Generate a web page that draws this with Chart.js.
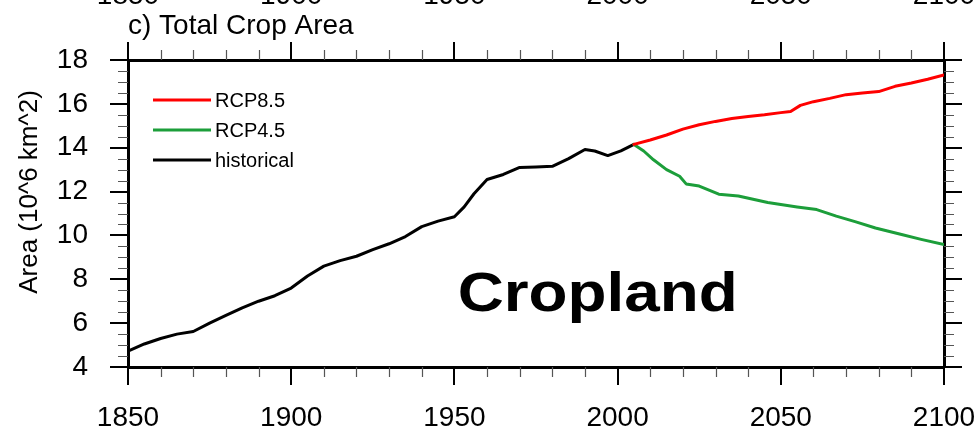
<!DOCTYPE html>
<html>
<head>
<meta charset="utf-8">
<script src="https://cdn.jsdelivr.net/npm/chart.js@4.4.0/dist/chart.umd.min.js"></script>
<style>
html,body{margin:0;padding:0;background:#fff;}
#wrap{width:977px;height:433px;position:relative;}
</style>
</head>
<body>
<div id="wrap"><canvas id="c" width="977" height="433"></canvas></div>
<script>
// ---- data ----
const histYears  = [1850,1855,1860,1865,1870,1875,1880,1885,1890,1895,1900,1905,1910,1915,1920,1925,1930,1935,1940,1945,1950,1953,1956,1960,1965,1970,1975,1980,1985,1990,1993,1997,2001,2005];
const histValues = [4.72,5.05,5.30,5.50,5.62,6.00,6.35,6.70,7.00,7.25,7.60,8.15,8.60,8.85,9.05,9.35,9.62,9.95,10.40,10.65,10.85,11.30,11.90,12.55,12.78,13.10,13.12,13.15,13.50,13.92,13.85,13.64,13.86,14.15];

const rcp85Years  = [2005,2010,2015,2020,2025,2030,2035,2040,2045,2050,2053,2056,2060,2065,2070,2075,2080,2085,2090,2095,2100];
const rcp85Values = [14.15,14.35,14.58,14.85,15.05,15.20,15.33,15.42,15.50,15.60,15.65,15.93,16.10,16.25,16.42,16.50,16.56,16.80,16.95,17.12,17.32];

const rcp45Years  = [2005,2008,2011,2015,2019,2021,2025,2031,2037,2046,2055,2061,2067,2073,2079,2087,2093,2100];
const rcp45Values = [14.15,13.85,13.45,13.00,12.70,12.35,12.25,11.88,11.80,11.50,11.30,11.18,10.88,10.62,10.34,10.04,9.82,9.58];

const xTickValues = [1850,1900,1950,2000,2050,2100];
const yTickValues = [4,6,8,10,12,14,16,18];
const seriesNames = ['RCP8.5','RCP4.5','historical'];
const seriesColors = ['#ff0000','#1c9e3a','#000000'];
const titleText = 'c) Total Crop Area';
const yTitleText = 'Area (10^6 km^2)';
const overlayText = 'Cropland';

// ---- helpers ----
const FONT = '"Liberation Sans", Arial, Helvetica, sans-serif';
const toPts = (xs, ys) => xs.map((x, i) => ({x: x, y: ys[i]}));
const xMinor = []; for (let v = 1850; v <= 2100; v += 10) if (v % 50) xMinor.push(v);
const yMinor = []; for (let v = 4; v <= 18; v += 0.5) if (v % 2) yMinor.push(v);

const gridOpts = {display: true, drawOnChartArea: false, drawTicks: true, tickLength: 18, lineWidth: 2, color: '#000'};
const borderOpts = {display: true, width: 3, color: '#000'};
const tickFont = {family: FONT, size: 28};
const noPad = s => { s.paddingLeft = 0; s.paddingRight = 0; s.paddingTop = 0; s.paddingBottom = 0; };

const decor = {
  id: 'decor',
  afterDraw(chart) {
    const ctx = chart.ctx;
    const a = chart.chartArea;
    const xs = chart.scales.x, ys = chart.scales.y;
    ctx.save();
    // minor ticks (outward)
    ctx.strokeStyle = '#555';
    ctx.lineWidth = 1.2;
    ctx.beginPath();
    xMinor.forEach(v => {
      const px = Math.round(xs.getPixelForValue(v)) + 0.5;
      ctx.moveTo(px, a.bottom); ctx.lineTo(px, a.bottom + 10);
      ctx.moveTo(px, a.top); ctx.lineTo(px, a.top - 10);
    });
    yMinor.forEach(v => {
      const py = Math.round(ys.getPixelForValue(v)) + 0.5;
      ctx.moveTo(a.left, py); ctx.lineTo(a.left - 10, py);
      ctx.moveTo(a.right, py); ctx.lineTo(a.right + 10, py);
    });
    ctx.stroke();

    // panel title
    ctx.fillStyle = '#000';
    ctx.font = '28px ' + FONT;
    ctx.textAlign = 'left';
    ctx.textBaseline = 'alphabetic';
    ctx.fillText(titleText, a.left, 34);

    // y-axis title
    ctx.save();
    ctx.translate(30, 192);
    ctx.rotate(-Math.PI / 2);
    ctx.font = '26px ' + FONT;
    ctx.textAlign = 'center';
    ctx.textBaseline = 'middle';
    ctx.fillText(yTitleText, 0, 0);
    ctx.restore();

    // legend
    ctx.font = '20px ' + FONT;
    ctx.textBaseline = 'middle';
    ctx.textAlign = 'left';
    seriesNames.forEach((name, i) => {
      const y = a.top + 40 + i * 30;
      ctx.strokeStyle = seriesColors[i];
      ctx.lineWidth = 3;
      ctx.beginPath();
      ctx.moveTo(a.left + 25, y); ctx.lineTo(a.left + 83, y);
      ctx.stroke();
      ctx.fillStyle = '#000';
      ctx.fillText(name, a.left + 87, y + 1);
    });

    // overlay label
    ctx.font = 'bold 56px ' + FONT;
    ctx.textAlign = 'left';
    ctx.textBaseline = 'alphabetic';
    const tx = xs.getPixelForValue(1951), ty = ys.getPixelForValue(6.55);
    const w = ctx.measureText(overlayText).width;
    ctx.translate(tx, ty);
    ctx.scale(280 / w, 1);
    ctx.fillText(overlayText, 0, 0);
    ctx.restore();
  }
};

new Chart(document.getElementById('c'), {
  type: 'line',
  data: {
    datasets: [
      {label: seriesNames[0], data: toPts(rcp85Years, rcp85Values), borderColor: seriesColors[0], order: 1},
      {label: seriesNames[1], data: toPts(rcp45Years, rcp45Values), borderColor: seriesColors[1], order: 2},
      {label: seriesNames[2], data: toPts(histYears, histValues), borderColor: seriesColors[2], order: 3}
    ]
  },
  options: {
    responsive: false,
    animation: false,
    devicePixelRatio: 1,
    layout: {padding: 0},
    elements: {
      line: {borderWidth: 3, tension: 0, borderCapStyle: 'round', borderJoinStyle: 'round'},
      point: {radius: 0, hoverRadius: 0}
    },
    plugins: {legend: {display: false}, title: {display: false}, tooltip: {enabled: false}},
    scales: {
      x: {
        type: 'linear', position: 'bottom', min: 1850, max: 2100,
        afterBuildTicks: s => { s.ticks = xTickValues.map(v => ({value: v})); },
        afterFit: s => { s.height = 66; noPad(s); },
        grid: gridOpts, border: borderOpts,
        ticks: {font: tickFont, color: '#000', padding: 16, maxRotation: 0, autoSkip: false, callback: v => String(v)}
      },
      x2: {
        type: 'linear', position: 'top', min: 1850, max: 2100,
        afterBuildTicks: s => { s.ticks = xTickValues.map(v => ({value: v})); },
        afterFit: s => { s.height = 60; noPad(s); },
        grid: gridOpts, border: borderOpts,
        ticks: {font: tickFont, color: '#000', padding: 29, maxRotation: 0, autoSkip: false, callback: v => String(v)}
      },
      y: {
        type: 'linear', position: 'left', min: 4, max: 18,
        afterBuildTicks: s => { s.ticks = yTickValues.map(v => ({value: v})); },
        afterFit: s => { s.width = 128; noPad(s); },
        grid: gridOpts, border: borderOpts,
        ticks: {font: tickFont, color: '#000', padding: 22, autoSkip: false, callback: v => String(v)}
      },
      y2: {
        type: 'linear', position: 'right', min: 4, max: 18,
        afterBuildTicks: s => { s.ticks = yTickValues.map(v => ({value: v})); },
        afterFit: s => { s.width = 33; noPad(s); },
        grid: gridOpts, border: borderOpts,
        ticks: {display: false}
      }
    }
  },
  plugins: [decor]
});
</script>
</body>
</html>
